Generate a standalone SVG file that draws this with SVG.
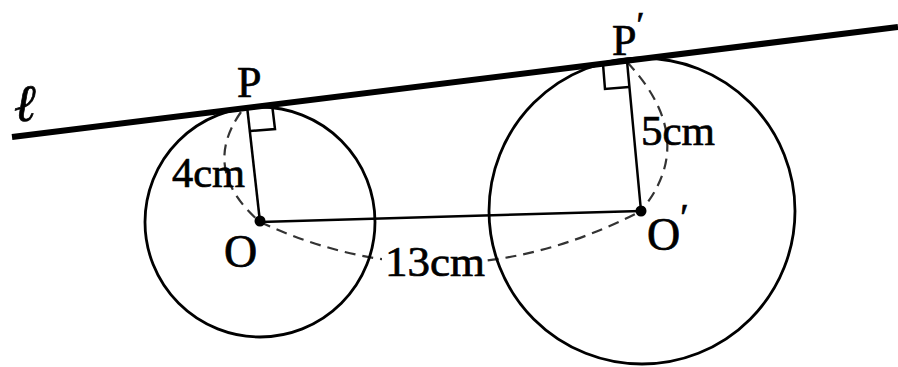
<svg xmlns="http://www.w3.org/2000/svg" width="898" height="367" viewBox="0 0 898 367">
<style>
.c{fill:none;stroke:#000;stroke-width:2.8}
.d{fill:none;stroke:#333;stroke-width:2.2;stroke-dasharray:11 7}
.s{fill:none;stroke:#000;stroke-width:2.5}
.t{font-family:"Liberation Serif","DejaVu Serif",serif;fill:#000;stroke:#000;stroke-width:0.7}
</style>
<rect width="898" height="367" fill="#fff"/>
<g id="connectors">
<path class="d" d="M241 112 Q200 170 260 222"/>
<path class="d" d="M260 222 Q450 310 641 211"/>
<path class="d" d="M627 62 Q700 140 641 211"/>
<rect x="382" y="244" width="102" height="36" fill="#fff"/>
<line x1="12" y1="137" x2="898" y2="27" stroke="#000" stroke-width="6"/>
<line class="s" x1="260" y1="222" x2="641" y2="211" stroke-width="3"/>
<line class="s" x1="247" y1="106" x2="260" y2="222"/>
<line class="s" x1="627" y1="61" x2="641" y2="211"/>
<polyline class="s" points="248,107 272,104 275,129 250,131"/>
<polyline class="s" points="627,62 603,64 605,89 629,87"/>
</g>
<g id="circleO"><circle class="c" cx="260" cy="222" r="115"/><circle cx="260" cy="221" r="5.5"/></g>
<g id="circleO2"><circle class="c" cx="642" cy="211" r="153"/><circle cx="641" cy="211" r="5.5"/></g>
<g id="labels">
<text class="t" x="14" y="121" font-size="52" font-style="italic" stroke-width="0.4">ℓ</text>
<text class="t" x="237" y="97" font-size="44">P</text>
<text class="t" x="612" y="55" font-size="44">P<tspan font-size="36" dy="-18">′</tspan></text>
<text class="t" x="224" y="267" font-size="46">O</text>
<text class="t" x="647" y="250" font-size="46">O<tspan font-size="38" dy="-20">′</tspan></text>
<text class="t" x="172" y="187" font-size="42" textLength="73" lengthAdjust="spacingAndGlyphs">4cm</text>
<text class="t" x="641" y="145" font-size="42" textLength="74" lengthAdjust="spacingAndGlyphs">5cm</text>
<text class="t" x="385" y="276" font-size="42" textLength="100" lengthAdjust="spacingAndGlyphs">13cm</text>
</g>
</svg>
